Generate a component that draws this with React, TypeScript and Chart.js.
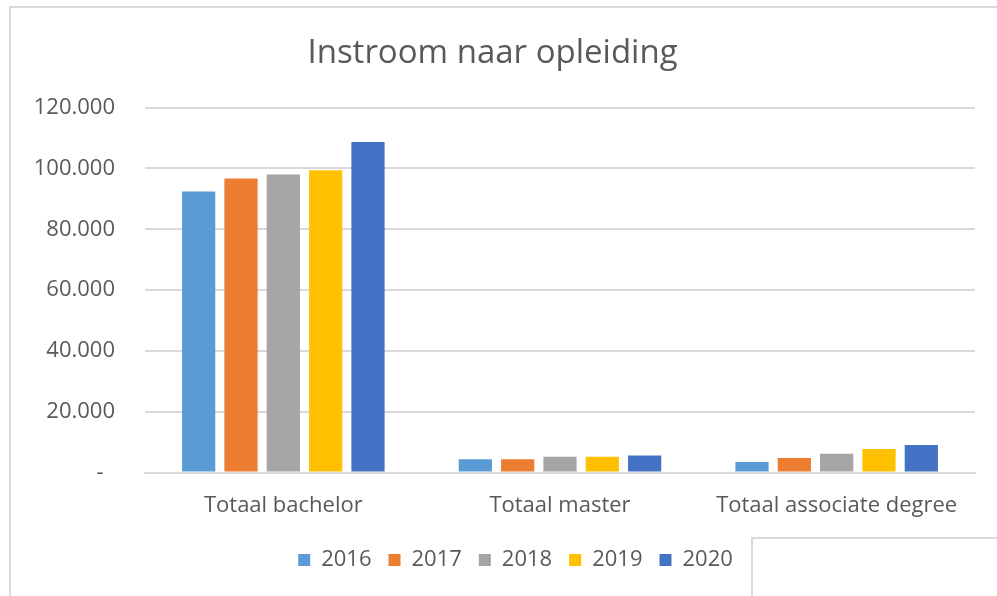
import React, { useEffect, useRef } from "react";
import { Chart, registerables } from "chart.js";

Chart.register(...registerables);

const categories = ["Totaal bachelor", "Totaal master", "Totaal associate degree"];
const years = ["2016", "2017", "2018", "2019", "2020"];
const v2016 = [92400, 4400, 3500];
const v2017 = [96700, 4400, 4800];
const v2018 = [98000, 5200, 6200];
const v2019 = [99400, 5200, 7800];
const v2020 = [108700, 5600, 9100];
const colors = ["#5B9BD5", "#ED7D31", "#A5A5A5", "#FFC000", "#4472C4"];
const yTicks = [0, 20000, 40000, 60000, 80000, 100000, 120000];

const FONT = "'Open Sans', 'DejaVu Sans', sans-serif";
const TEXT = "#595959";
const GRID = "#d9d9d9";

function fmt(v: number): string {
  if (v === 0) return "-  ";
  return Math.round(v / 1000) + ".000";
}

const legendShift = {
  id: "legendShift",
  afterLayout(chart: any) {
    const l = chart.legend;
    if (l) {
      l.left += 23;
      l.right += 23;
    }
  },
};

export default function App() {
  const ref = useRef<HTMLCanvasElement | null>(null);
  useEffect(() => {
    if (!ref.current) return;
    const series = [v2016, v2017, v2018, v2019, v2020];
    const chart = new Chart(ref.current, {
      type: "bar",
      data: {
        labels: categories,
        datasets: years.map((y, i) => ({
          label: y,
          data: series[i],
          backgroundColor: colors[i],
          borderWidth: 0,
          categoryPercentage: 0.765,
          barPercentage: 0.785,
        })),
      },
      plugins: [legendShift],
      options: {
        animation: false,
        responsive: false,
        maintainAspectRatio: false,
        layout: { padding: { left: 10, right: 22, top: 0, bottom: 15 } },
        plugins: {
          title: {
            display: true,
            text: "Instroom naar opleiding",
            color: TEXT,
            font: { family: FONT, size: 33, weight: "normal" },
            padding: { top: 34, bottom: 34 },
          },
          legend: {
            display: true,
            position: "bottom",
            labels: {
              color: TEXT,
              font: { family: FONT, size: 22 },
              boxWidth: 12,
              boxHeight: 12,
              padding: 17,
            },
          },
          tooltip: { enabled: false },
        },
        scales: {
          x: {
            afterFit: (s: any) => {
              s.height = s.height - 7;
            },
            grid: { display: false, drawTicks: false },
            border: { display: true, color: GRID, width: 2 },
            ticks: { color: TEXT, font: { family: FONT, size: 22 }, padding: 20 },
          },
          y: {
            min: 0,
            max: 120000,
            afterFit: (s: any) => {
              s.width = 135;
            },
            afterBuildTicks: (s: any) => {
              s.ticks = yTicks.map((v) => ({ value: v }));
            },
            grid: { color: GRID, lineWidth: 2, drawTicks: false },
            border: { display: false },
            ticks: {
              color: TEXT,
              font: { family: FONT, size: 22 },
              padding: 30,
              callback: (v: any) => fmt(Number(v)),
            },
          },
        },
      },
    });
    return () => chart.destroy();
  }, []);

  return (
    <div style={{ position: "fixed", left: 0, top: 0, width: 997, height: 596, background: "#fff", overflow: "hidden" }}>
      <div
        style={{
          position: "absolute",
          left: 9,
          top: 6,
          width: 1100,
          height: 700,
          borderLeft: `2px solid ${GRID}`,
          borderTop: `2px solid ${GRID}`,
        }}
      />
      <canvas ref={ref} width={997} height={596} style={{ position: "absolute", left: 0, top: 0 }} />
      <div
        style={{
          position: "absolute",
          left: 751,
          top: 537,
          width: 400,
          height: 200,
          background: "#fff",
          borderLeft: `2px solid ${GRID}`,
          borderTop: `2px solid ${GRID}`,
        }}
      />
    </div>
  );
}
